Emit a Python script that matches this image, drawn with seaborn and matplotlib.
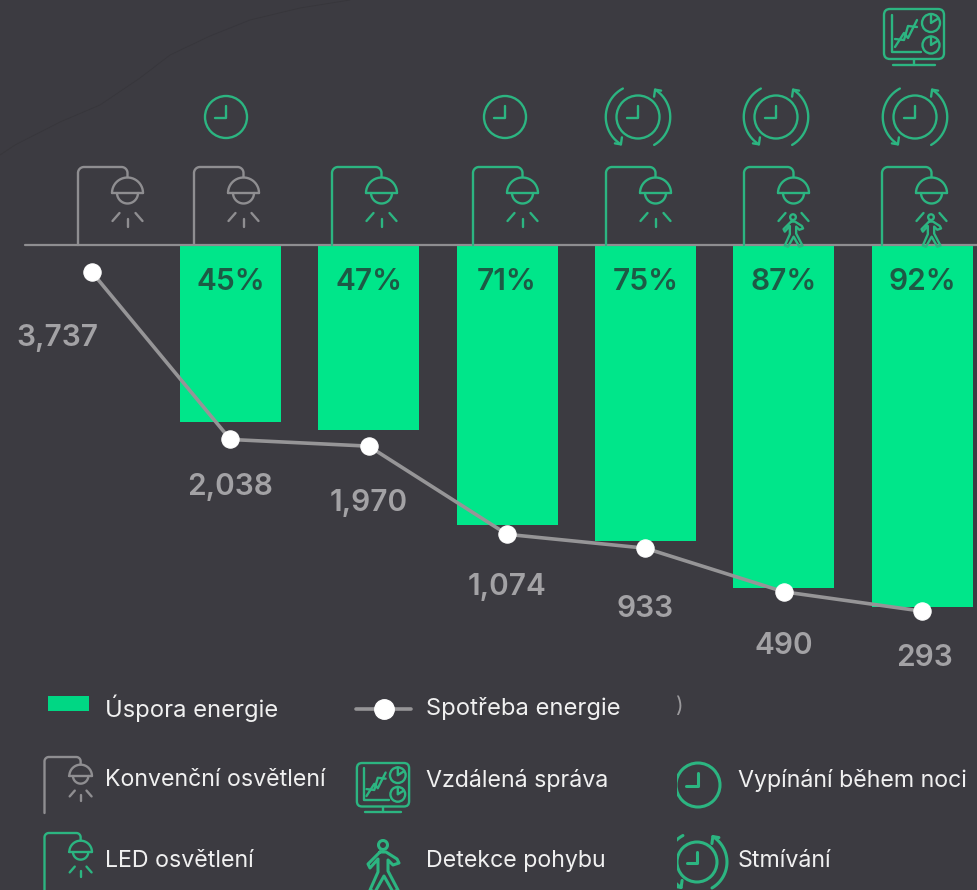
import numpy as np
import pandas as pd
import seaborn as sns
from matplotlib import pyplot as plt
from matplotlib.patches import Rectangle, FancyBboxPatch, Circle

# chart values
scenario = ['A', 'B', 'C', 'D', 'E', 'F', 'G']
saving_pct = [0, 45, 47, 71, 75, 87, 92]
consumption = [3737, 2038, 1970, 1074, 933, 490, 293]
lamp_type = ['conv', 'conv', 'led', 'led', 'led', 'led', 'led']
clock_type = [None, 'off', None, 'off', 'dim', 'dim', 'dim']
has_motion = [False, False, False, False, False, True, True]
has_remote = [False, False, False, False, False, False, True]
legend_row1 = ['Úspora energie', 'Spotřeba energie']
legend_row2 = ['Konvenční osvětlení', 'Vzdálená správa', 'Vypínání během noci']
legend_row3 = ['LED osvětlení', 'Detekce pohybu', 'Stmívání']

BG = '#3c3b41'
BAR = '#00e68a'
GREEN = '#2cb581'
GREY = '#8f8e91'
FONT = ['Inter', 'DejaVu Sans']
LW = 1.7

sns.set_theme(style='dark', rc={'figure.facecolor': BG, 'axes.facecolor': BG})
plt.rcParams['font.family'] = FONT

W, H = 977, 890
fig = plt.figure(figsize=(W / 100, H / 100), dpi=100)
ax = fig.add_axes([0, 0, 1, 1])

df = pd.DataFrame({'scenario': scenario, 'saving': saving_pct, 'consumption': consumption,
                   'pos': range(len(scenario))})

# bars hang down from the baseline
sns.barplot(data=df, x='scenario', y='saving', color=BAR, saturation=1, width=0.73,
            linewidth=0, ax=ax)
ax.set_xlim(-0.665, 6.397)
ax.set_ylim((H - 245) / 3.94, -245 / 3.94)
ax.set_axis_off()

ax2 = ax.twinx()
sns.lineplot(data=df, x='pos', y='consumption', color='#969597', linewidth=2.6, marker='o',
             markersize=12.5, markerfacecolor='white', markeredgecolor='white', ax=ax2)
ax2.set_xlim(-0.665, 6.397)
ax2.set_ylim((640 - H) / 0.0984, 640 / 0.0984)
ax2.set_axis_off()

for i, v in enumerate(saving_pct):
    if v > 0:
        ax.annotate(f'{v}%', (i, 0), xytext=(0, -27), textcoords='offset points', ha='center',
                    va='center', color='#1d5a45', fontsize=21.5, fontweight='semibold')

# label offset from each point, in points
label_off = [(-25, -47), (0, -34), (0, -41), (0, -38), (0, -44), (0, -39), (2, -34)]
for i, v in enumerate(consumption):
    ax2.annotate(f'{v:,}', (i, v), xytext=label_off[i], textcoords='offset points', ha='center',
                 va='center', color='#a3a2a5', fontsize=21.5, fontweight='semibold')

# overlay in pixels for the icons and the hand made legend
px = fig.add_axes([0, 0, 1, 1], facecolor='none')
px.set_xlim(0, W)
px.set_ylim(H, 0)
px.set_axis_off()


def ln(xs, ys, c, lw=LW):
    px.plot(xs, ys, color=c, lw=lw, solid_capstyle='round', solid_joinstyle='round')


def arc_xy(cx, cy, r, a0, a1):
    a = np.radians(np.linspace(a0, a1, 24))
    return cx + r * np.cos(a), cy - r * np.sin(a)


def arc(cx, cy, r, a0, a1, c, lw=LW):
    xs, ys = arc_xy(cx, cy, r, a0, a1)
    ln(xs, ys, c, lw)


def lamp(x0, top, bottom, c, s=1.0):
    hx = x0 + 49.5 * s
    r = 6 * s
    x1, y1 = arc_xy(x0 + r, top + r, r, 180, 90)
    x2, y2 = arc_xy(hx - r, top + r, r, 90, 0)
    # pole and arm as one stroke so the corners stay clean
    ln(np.r_[x0, x1, x2, hx], np.r_[bottom, y1, y2, top + 10 * s], c)
    fy = top + 26 * s
    arc(hx, fy, 15.5 * s, 0, 180, c)
    ln([hx - 15.5 * s, hx + 15.5 * s], [fy, fy], c)
    arc(hx, fy, 10.5 * s, 180, 360, c)
    ln([hx - 15 * s, hx - 8 * s], [fy + 28 * s, fy + 20 * s], c)
    ln([hx + 15 * s, hx + 8 * s], [fy + 28 * s, fy + 20 * s], c)


def lamp_ray(x0, top, c, s=1.0):
    hx = x0 + 49.5 * s
    ln([hx, hx], [top + 52 * s, top + 60 * s], c)


def clock(cx, cy, r, c=GREEN, lw=LW):
    px.add_patch(Circle((cx, cy), r, fill=False, ec=c, lw=lw))
    k = r / 21
    ln([cx, cx, cx - 11 * k], [cy - 11 * k, cy + 1, cy + 1], c, lw)


def dim_clock(cx, cy, r, c=GREEN, lw=LW):
    clock(cx, cy, r, c, lw)
    R = r * 1.5
    arc(cx, cy, R, 118, 238, c, lw)
    arc(cx, cy, R, -60, 58, c, lw)
    # arrow heads
    a = np.radians(238)
    ex, ey = cx + R * np.cos(a), cy - R * np.sin(a)
    ln([ex - 6, ex, ex + 1], [ey - 1, ey, ey - 7], c, lw)
    a = np.radians(58)
    ex, ey = cx + R * np.cos(a), cy - R * np.sin(a)
    ln([ex + 6, ex, ex - 1], [ey + 1, ey, ey + 7], c, lw)


def person(cx, top, c, s=1.0, lw=LW):
    px.add_patch(Circle((cx, top + 5 * s), 4.5 * s, fill=False, ec=c, lw=lw))
    dx = np.array([-3, -15, -13, -5, -5, -13, -8, 1, 10, 15, 5, 5, 10, 16, 14, 3, -3])
    dy = np.array([12, 24, 28, 19, 32, 50, 52, 36, 52, 50, 31, 20, 25, 23, 19, 12, 12])
    ln(cx + dx * s, top + dy * s, c, lw)


def pie(cx, cy, r, c, lw):
    px.add_patch(Circle((cx, cy), r, fill=False, ec=c, lw=lw))
    ln([cx, cx, cx + r * 0.8], [cy - r, cy, cy - r * 0.5], c, lw)


def monitor(cx, top, s, c=GREEN, lw=LW):
    w, h = 60 * s, 50 * s
    px.add_patch(FancyBboxPatch((cx - w / 2 + 3 * s, top + 3 * s), w - 6 * s, h - 6 * s,
                                boxstyle=f'round,pad={3 * s},rounding_size={6 * s}',
                                fill=False, ec=c, lw=lw))
    ln([cx, cx], [top + h, top + h + 6 * s], c, lw)
    ln([cx - 21 * s, cx + 21 * s], [top + h + 6 * s, top + h + 6 * s], c, lw)
    lx = cx - 22 * s
    ln([lx, lx, lx + 29 * s], [top + 6 * s, top + 43 * s, top + 43 * s], c, lw)
    zx = np.array([3, 12, 16, 25]) * s + lx
    ln(zx, top + np.array([38, 24, 29, 11]) * s, c, lw)
    ln(zx, top + np.array([30, 31, 17, 18]) * s, c, lw)
    pie(cx + 17 * s, top + 14 * s, 9 * s, c, lw)
    pie(cx + 17 * s, top + 36 * s, 8.5 * s, c, lw)


# faint smudge from the source picture
cx_s = [0, 15, 60, 100, 140, 170, 210, 250, 300, 350]
cy_s = [155, 145, 122, 105, 78, 55, 36, 20, 8, 0]
px.plot(cx_s, cy_s, color='#37363b', lw=0.6)

# baseline
ln([25, W], [245, 245], GREY, 1.6)

pole_x = [78, 194, 332, 473, 606, 744, 882]
clock_x = [None, 226, None, 505, 638, 776, 915]
for i in range(len(scenario)):
    c = GREY if lamp_type[i] == 'conv' else GREEN
    lamp(pole_x[i], 167, 245, c)
    if has_motion[i]:
        person(pole_x[i] + 49, 214, GREEN, 0.63)
    else:
        lamp_ray(pole_x[i], 167, c)
    if clock_type[i] == 'off':
        clock(clock_x[i], 117, 21)
    elif clock_type[i] == 'dim':
        dim_clock(clock_x[i], 117, 21.5)
    if has_remote[i]:
        monitor(914, 9, 1.0)

# legend
px.add_patch(Rectangle((48, 696), 41, 15, color='#00d784', lw=0))
ln([356, 411], [709, 709], '#969597', 2.6)
px.plot([384], [709], 'o', ms=14, color='white', mec='white')
lamp(44.5, 757, 813, GREY, 0.73)
lamp_ray(44.5, 757, GREY, 0.73)
lamp(44.5, 833, H, GREEN, 0.73)
lamp_ray(44.5, 833, GREEN, 0.73)
monitor(383, 763, 0.87)
person(383, 840, GREEN, 1.0, 2.2)
clock(698, 785, 22, lw=2.2)
dim_clock(697, 862, 20, lw=2.2)
# the source picture is cut off left of these two icons
px.add_patch(Rectangle((640, 750), 37, 140, color=BG, lw=0, zorder=5))
px.text(679, 706, ')', color='#9a999c', fontsize=15, ha='center', va='center', zorder=6)

for y, labels, size in [(708, legend_row1, 17.1), (780, legend_row2, 16.7), (861, legend_row3, 16.7)]:
    for k, lab in enumerate(labels):
        tx = [105, 426, 738][k]
        px.text(tx, y, lab, color='#f0f0f0', fontsize=size, ha='left', va='center')

fig.savefig('out.png', dpi=100, facecolor=BG)
